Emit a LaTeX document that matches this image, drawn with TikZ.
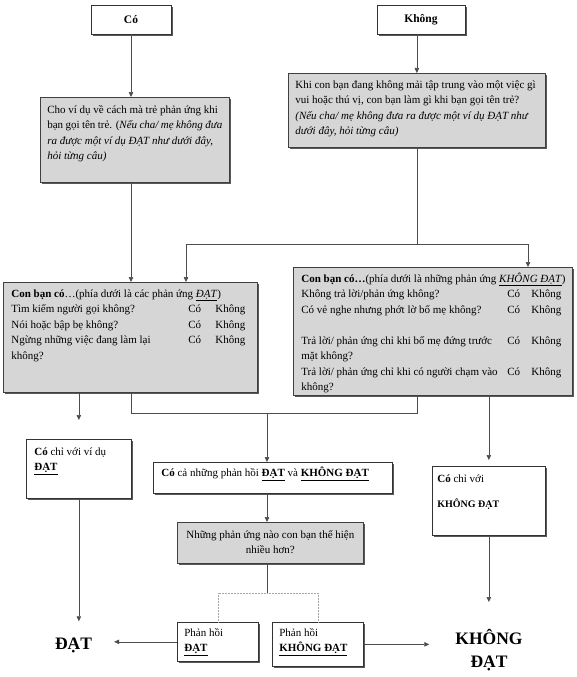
\documentclass[tikz,border=0pt]{standalone}
\usepackage{fontspec}
\setmainfont{Liberation Serif}
\usetikzlibrary{positioning,arrows.meta,shadows,calc}
\newcommand{\inbox}[3]{\parbox[c][#2pt][t]{#1pt}{\strut#3}}
\tikzset{
  boxshadow/.style = {drop shadow={shadow xshift=1.6pt, shadow yshift=-1.6pt, fill=black!65, opacity=1}},
  head/.style   = {draw=black!80, line width=.7pt, fill=white, boxshadow, minimum height=29pt,
                   font=\fontsize{11.5}{14}\selectfont\bfseries},
  qbox/.style   = {draw=black!75, line width=.7pt, fill=black!16, boxshadow, anchor=north west,
                   inner xsep=8pt, inner ysep=5pt, font=\fontsize{11}{15.5}\selectfont},
  abox/.style   = {draw=black!80, line width=.7pt, fill=white, boxshadow, anchor=north west,
                   inner xsep=8pt, inner ysep=5pt, font=\fontsize{11}{15.5}\selectfont},
  result/.style = {align=center, inner sep=0pt, font=\fontsize{17.5}{23.5}\selectfont\bfseries},
  link/.style   = {draw=black!70, line width=.6pt},
  arrow/.style  = {link, -{Triangle[width=4.5pt,length=5pt]}},
  faint/.style  = {draw=black!35, line width=.5pt, densely dotted},
}

\begin{document}
\begin{tikzpicture}[x=1pt, y=-1pt]
  \useasboundingbox (0,0) rectangle (576,677);
  % answers at the top
  \node[head, minimum width=80pt] (co) at (131,19.5) {Có};
  \node[head, minimum width=88pt] (khong) at (421,19.5) {Không};
  % questions
  \node[qbox, inner xsep=7pt] (vidu) at (40,97) {\inbox{175}{75}{Cho ví dụ về cách mà trẻ phản ứng khi\\
    bạn gọi tên trẻ. (\textit{Nếu cha/ mẹ không đưa\\ ra được một ví dụ ĐẠT như dưới đây,\\ hỏi từng câu)}}};
  \node[qbox, inner xsep=7pt, inner ysep=4pt] (khi) at (288,73) {\inbox{243}{66}{Khi con bạn đang không mải tập trung vào một việc gì\\
    vui hoặc thú vị, con bạn làm gì khi bạn gọi tên trẻ?\\
    \textit{(Nếu cha/ mẹ không đưa ra được một ví dụ ĐẠT như\\ dưới đây, hỏi từng câu)}}};
  \node[qbox, inner ysep=4pt] (datq) at (3,282) {\inbox{238}{102}{\begin{tabular}[t]{@{}p{177pt}@{}p{27pt}@{}l@{}}
    \multicolumn{3}{@{}l@{}}{\textbf{Con bạn có}…(phía dưới là các phản ứng \underline{\textit{ĐẠT}})}\\
    Tìm kiếm người gọi không? & Có & Không\\
    Nói hoặc bập bẹ không? & Có & Không\\
    Ngừng những việc đang làm lại\newline không? & Có & Không
  \end{tabular}}};
  \node[qbox, inner ysep=4pt] (kdq) at (293,267) {\inbox{263}{120}{\begin{tabular}[t]{@{}p{206pt}@{}p{24pt}@{}l@{}}
    \multicolumn{3}{@{}l@{}}{\textbf{Con bạn có…}(phía dưới là những phản ứng \underline{\textit{KHÔNG ĐẠT}})}\\
    Không trả lời/phản ứng không? & Có & Không\\
    Có vẻ nghe nhưng phớt lờ bố mẹ không? & Có & Không\\
    & & \\
    Trả lời/ phản ứng chỉ khi bố mẹ đứng trước\newline mặt không? & Có & Không\\
    Trả lời/ phản ứng chỉ khi có người chạm vào\newline không? & Có & Không
  \end{tabular}}};
  % outcomes of the two lists
  \node[abox] (onlydat) at (26,439) {\inbox{89}{49}{\textbf{Có} chỉ với ví dụ\\ \underline{\textbf{ĐẠT}}}};
  \node[abox, inner xsep=5pt] (onlykd) at (432,466) {\inbox{103}{59}{\textbf{Có} chỉ với\\[9.5pt]
    {\fontsize{10}{12}\selectfont\textbf{KHÔNG ĐẠT}}}};
  \node[abox, inner ysep=3pt] (both) at (153,462) {\inbox{223}{25}{\textbf{Có} cả những phản hồi
    \underline{\textbf{ĐẠT}} và \underline{\textbf{KHÔNG ĐẠT}}}};
  \node[qbox, inner xsep=7pt] (which) at (177,522) {\inbox{172}{31}{\centering Những phản ứng nào con bạn thể hiện\\ nhiều hơn?}};
  \node[abox, inner xsep=7pt, inner ysep=3pt] (rdat) at (177,622) {\inbox{67}{33}{Phản hồi\\ \underline{\textbf{ĐẠT}}}};
  \node[abox, inner xsep=7pt, inner ysep=3pt] (rkd) at (272,622) {\inbox{77}{38}{Phản hồi\\ \underline{\textbf{KHÔNG ĐẠT}}}};
  % final results
  \node[result, anchor=base] (resdat) at (73.5,649) {ĐẠT};
  \node[result, anchor=north] (reskd) at (489,629) {KHÔNG\\ ĐẠT};

  \coordinate (jl) at (186,244);
  \coordinate (jr) at (528,244);
  \coordinate (jm) at (267,413);
  \coordinate (jb) at (267,593);

  \draw[arrow] (co) -- (co |- vidu.north);
  \draw[arrow] (khi.north |- khong.south) -- (khi.north);
  \draw[arrow] (co |- vidu.south) -- (co |- datq.north);
  \draw[link] (khi.south) -- (khi.south |- jl);
  \draw[arrow] (khi.south |- jl) -- (jl) -- (jl |- datq.north);
  \draw[arrow] (khi.south |- jl) -- (jr) -- (jr |- kdq.north);
  \draw[arrow, shorten >=19pt] (onlydat.north |- datq.south) -- (onlydat.north);
  \draw[link] (co |- datq.south) |- (jm);
  \draw[link] (khi.south |- kdq.south) |- (jm);
  \draw[arrow] (jm) -- (jm |- both.north);
  \draw[arrow, shorten >=6pt] (onlykd.north |- kdq.south) -- (onlykd.north);
  \draw[arrow] (jm |- both.south) -- (jm |- which.north);
  \draw[link] (jm |- which.south) -- (jb);
  \draw[faint] (jb) -| (rdat.north);
  \draw[faint] (jb) -| (rkd.north);
  \draw[arrow, shorten >=22pt] (rdat.west) -- (rdat.west -| resdat.east);
  \draw[arrow, shorten >=26pt] (rkd.east) -- (rkd.east -| reskd.west);
  \draw[arrow, shorten >=16pt] (onlydat) -- (onlydat.south |- resdat.north);
  \draw[arrow, shorten >=27pt] (onlykd) -- (onlykd.south |- reskd.north);
\end{tikzpicture}
\end{document}
